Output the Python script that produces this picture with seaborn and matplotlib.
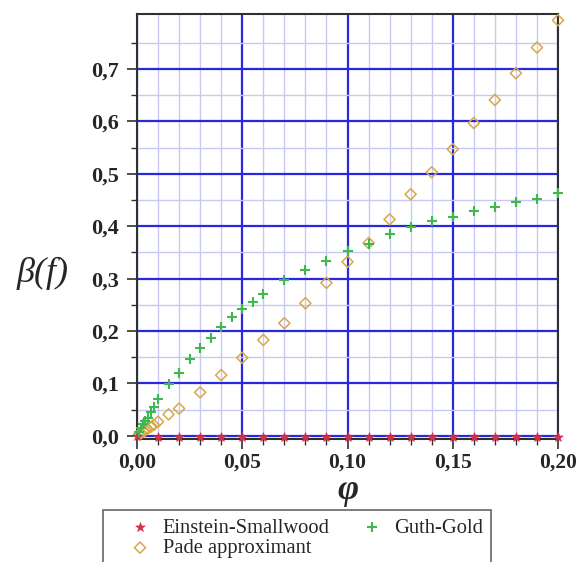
import numpy as np
import pandas as pd
import seaborn as sns
import matplotlib
matplotlib.use("Agg")
import matplotlib.pyplot as plt
from matplotlib.ticker import MultipleLocator, FixedLocator, FuncFormatter

# ---- data ----
es_phi = [0.00, 0.01, 0.02, 0.03, 0.04, 0.05, 0.06, 0.07, 0.08, 0.09, 0.10,
          0.11, 0.12, 0.13, 0.14, 0.15, 0.16, 0.17, 0.18, 0.19, 0.20]
es_beta = [0.0, -0.002, -0.002, -0.002, -0.002, -0.002, -0.002, -0.002, -0.002, -0.002, -0.002,
           -0.002, -0.002, -0.002, -0.002, -0.002, -0.002, -0.002, -0.002, -0.002, -0.002]

gg_phi = [0.001, 0.002, 0.003, 0.004, 0.005, 0.0065, 0.008, 0.01, 0.015, 0.02,
          0.025, 0.03, 0.035, 0.04, 0.045, 0.05, 0.055, 0.06, 0.07, 0.08, 0.09,
          0.10, 0.11, 0.12, 0.13, 0.14, 0.15, 0.16, 0.17, 0.18, 0.19, 0.20]
gg_beta = [0.008, 0.015, 0.022, 0.028, 0.035, 0.045, 0.055, 0.070, 0.098, 0.119,
           0.146, 0.168, 0.187, 0.207, 0.226, 0.243, 0.256, 0.270, 0.297, 0.316, 0.334,
           0.352, 0.367, 0.385, 0.399, 0.410, 0.418, 0.429, 0.437, 0.447, 0.452, 0.463]

pade_phi = [0.001, 0.002, 0.003, 0.004, 0.005, 0.0065, 0.008, 0.01, 0.015, 0.02,
            0.03, 0.04, 0.05, 0.06, 0.07, 0.08, 0.09, 0.10, 0.11, 0.12, 0.13,
            0.14, 0.15, 0.16, 0.17, 0.18, 0.19, 0.20]
pade_beta = [0.003, 0.005, 0.008, 0.011, 0.013, 0.017, 0.021, 0.027, 0.041, 0.052,
             0.083, 0.116, 0.149, 0.183, 0.215, 0.253, 0.292, 0.332, 0.368, 0.413, 0.461,
             0.503, 0.547, 0.597, 0.641, 0.692, 0.741, 0.793]

labels = ["Einstein-Smallwood", "Pade approximant", "Guth-Gold"]
y_major = [0.0, 0.1, 0.2, 0.3, 0.4, 0.5, 0.6, 0.7]
y_minor = [0.05, 0.15, 0.25, 0.35, 0.45, 0.55, 0.65, 0.75]

sns.set_theme(style="white")
plt.rcParams['font.family'] = ['Liberation Serif', 'DejaVu Serif']

fig = plt.figure(figsize=(5.77, 5.62), dpi=100)
ax = fig.add_axes([137/577, 1-439/562, (558-137)/577, (439-14)/562])

df_es = pd.DataFrame({"phi": es_phi, "beta": es_beta})
df_gg = pd.DataFrame({"phi": gg_phi, "beta": gg_beta})
df_pa = pd.DataFrame({"phi": pade_phi, "beta": pade_beta})

sns.scatterplot(data=df_es, x="phi", y="beta", ax=ax, marker="*", s=50,
                color="#d03050", edgecolor="#d03050", linewidth=0.5,
                label=labels[0], zorder=5, clip_on=False)
sns.scatterplot(data=df_pa, x="phi", y="beta", ax=ax, marker="D", s=32,
                facecolor="none", edgecolor="#d8a848", linewidth=1.1,
                label=labels[1], zorder=4, clip_on=False)
sns.scatterplot(data=df_gg, x="phi", y="beta", ax=ax, marker="+", s=60,
                color="#40b850", linewidth=1.5,
                label=labels[2], zorder=6, clip_on=False)

ax.set_xlim(0, 0.2)
ax.set_ylim(-0.006, 0.805)

ax.xaxis.set_major_locator(MultipleLocator(0.05))
ax.xaxis.set_minor_locator(MultipleLocator(0.01))
ax.yaxis.set_major_locator(FixedLocator(y_major))
ax.yaxis.set_minor_locator(FixedLocator(y_minor))

ax.xaxis.set_major_formatter(FuncFormatter(lambda v, p: f"{v:.2f}".replace(".", ",")))
ax.yaxis.set_major_formatter(FuncFormatter(lambda v, p: f"{v:.1f}".replace(".", ",")))

ax.grid(which="minor", color="#c8c8f4", linewidth=1.0, zorder=0)
ax.grid(which="major", color="#2828e0", linewidth=1.6, zorder=1)
ax.set_axisbelow(True)

for s in ax.spines.values():
    s.set_visible(True)
    s.set_color("#303030")
    s.set_linewidth(1.5)

ax.tick_params(axis="both", which="major", direction="out", length=7, width=1.2,
               color="#303030", pad=3, bottom=True, left=True)
ax.tick_params(axis="x", which="major", labelsize=15.5)
ax.tick_params(axis="y", which="major", labelsize=16, pad=6)
ax.tick_params(axis="both", which="minor", direction="out", length=4, width=1.0,
               color="#303030", bottom=True, left=True)
for lab in ax.get_xticklabels() + ax.get_yticklabels():
    lab.set_fontweight("bold")

ax.set_xlabel("φ", fontsize=26, fontstyle="italic", fontweight="bold", labelpad=1)
ax.set_ylabel("β(f)", fontsize=26, rotation=0, fontstyle="italic", va="center")
ax.yaxis.set_label_coords(-0.225, 0.39)

leg = ax.legend(loc="upper left", bbox_to_anchor=((103-137)/421, (439-510)/425),
                borderaxespad=0, ncol=2, frameon=True, fontsize=14.8,
                handletextpad=-0.3, columnspacing=0.65, borderpad=0.4,
                labelspacing=0.05, handlelength=2.8, fancybox=False,
                edgecolor="#404040")
leg.get_frame().set_linewidth(1.2)

fig.savefig("out.png", dpi=100)
